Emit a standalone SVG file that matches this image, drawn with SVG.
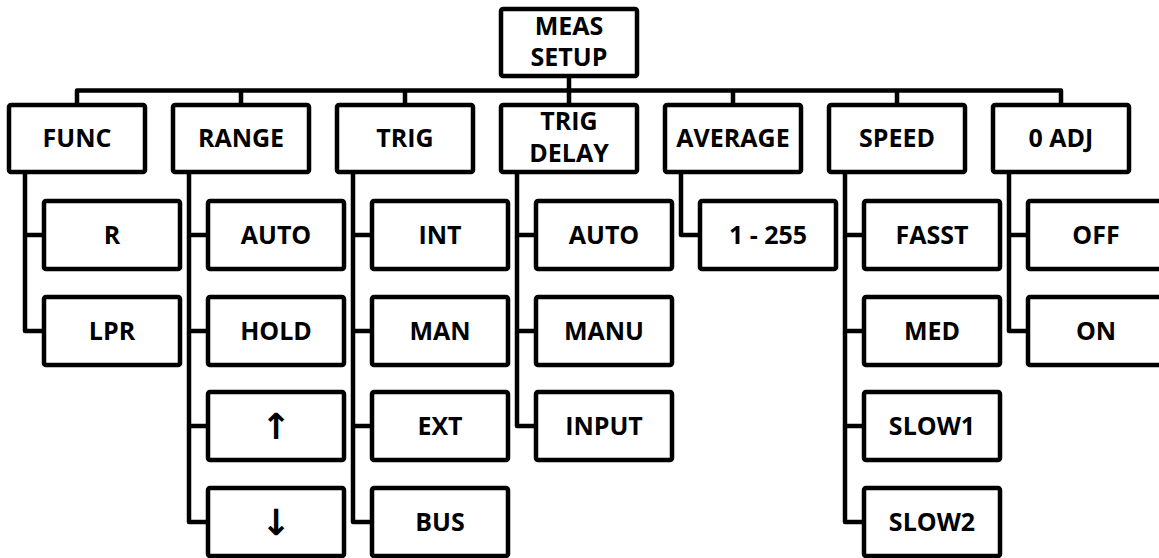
<svg xmlns="http://www.w3.org/2000/svg" width="1159" height="558" viewBox="0 0 1159 558">
<style>
.b{fill:#fff;stroke:#000;stroke-width:4.5;stroke-linejoin:round}
.c{fill:none;stroke:#000;stroke-width:4.5;stroke-linejoin:round}
text{font-family:"Open Sans","Liberation Sans",sans-serif;font-weight:bold;font-size:25px;text-anchor:middle;fill:#000}
.a{font-family:"DejaVu Sans",sans-serif;font-weight:bold;font-size:36px}
</style>
<rect width="1159" height="558" fill="#fff"/>
<g id="connectors">
<path class="c" d="M569 76V90.5"/>
<path class="c" d="M77 105V90.5H1061V105"/>
<path class="c" d="M241 90.5V105M405 90.5V105M569 90.5V105M733 90.5V105M897 90.5V105"/>
<path class="c" d="M25 172V331H44M25 235H44"/>
<path class="c" d="M189 172V522H208M189 235H208M189 331H208M189 426H208"/>
<path class="c" d="M353 172V522H372M353 235H372M353 331H372M353 426H372"/>
<path class="c" d="M517 172V426H536M517 235H536M517 331H536"/>
<path class="c" d="M681 172V235H700"/>
<path class="c" d="M845 172V522H864M845 235H864M845 331H864M845 426H864"/>
<path class="c" d="M1009 172V331H1028M1009 235H1028"/>
</g>
<g id="meas-setup"><rect class="b" x="501" y="9" width="136" height="67" rx="2"/><text x="569" y="35">MEAS</text><text x="569" y="66">SETUP</text></g>
<g id="func"><rect class="b" x="9" y="105" width="136" height="67" rx="2"/><text x="77" y="147">FUNC</text></g>
<g id="range"><rect class="b" x="173" y="105" width="136" height="67" rx="2"/><text x="241" y="147">RANGE</text></g>
<g id="trig"><rect class="b" x="337" y="105" width="136" height="67" rx="2"/><text x="405" y="147">TRIG</text></g>
<g id="trig-delay"><rect class="b" x="501" y="105" width="136" height="67" rx="2"/><text x="569" y="130">TRIG</text><text x="569" y="162">DELAY</text></g>
<g id="average"><rect class="b" x="665" y="105" width="136" height="67" rx="2"/><text x="733" y="147">AVERAGE</text></g>
<g id="speed"><rect class="b" x="829" y="105" width="136" height="67" rx="2"/><text x="897" y="147">SPEED</text></g>
<g id="zero-adj"><rect class="b" x="993" y="105" width="136" height="67" rx="2"/><text x="1061" y="147">0 ADJ</text></g>

<g id="func-r"><rect class="b" x="44" y="201" width="136" height="68" rx="2"/><text x="112" y="244">R</text></g>
<g id="func-lpr"><rect class="b" x="44" y="297" width="136" height="68" rx="2"/><text x="112" y="340">LPR</text></g>

<g id="range-auto"><rect class="b" x="208" y="201" width="136" height="68" rx="2"/><text x="276" y="244">AUTO</text></g>
<g id="range-hold"><rect class="b" x="208" y="297" width="136" height="68" rx="2"/><text x="276" y="340">HOLD</text></g>
<g id="range-up"><rect class="b" x="208" y="392" width="136" height="68" rx="2"/><text class="a" x="276" y="439">↑</text></g>
<g id="range-down"><rect class="b" x="208" y="488" width="136" height="68" rx="2"/><text class="a" x="276" y="535">↓</text></g>

<g id="trig-int"><rect class="b" x="372" y="201" width="136" height="68" rx="2"/><text x="440" y="244">INT</text></g>
<g id="trig-man"><rect class="b" x="372" y="297" width="136" height="68" rx="2"/><text x="440" y="340">MAN</text></g>
<g id="trig-ext"><rect class="b" x="372" y="392" width="136" height="68" rx="2"/><text x="440" y="435">EXT</text></g>
<g id="trig-bus"><rect class="b" x="372" y="488" width="136" height="68" rx="2"/><text x="440" y="531">BUS</text></g>

<g id="delay-auto"><rect class="b" x="536" y="201" width="136" height="68" rx="2"/><text x="604" y="244">AUTO</text></g>
<g id="delay-manu"><rect class="b" x="536" y="297" width="136" height="68" rx="2"/><text x="604" y="340">MANU</text></g>
<g id="delay-input"><rect class="b" x="536" y="392" width="136" height="68" rx="2"/><text x="604" y="435">INPUT</text></g>

<g id="average-range"><rect class="b" x="700" y="201" width="136" height="68" rx="2"/><text x="768" y="244">1 - 255</text></g>

<g id="speed-fasst"><rect class="b" x="864" y="201" width="136" height="68" rx="2"/><text x="932" y="244">FASST</text></g>
<g id="speed-med"><rect class="b" x="864" y="297" width="136" height="68" rx="2"/><text x="932" y="340">MED</text></g>
<g id="speed-slow1"><rect class="b" x="864" y="392" width="136" height="68" rx="2"/><text x="932" y="435">SLOW1</text></g>
<g id="speed-slow2"><rect class="b" x="864" y="488" width="136" height="68" rx="2"/><text x="932" y="531">SLOW2</text></g>

<g id="adj-off"><rect class="b" x="1028" y="201" width="136" height="68" rx="2"/><text x="1096" y="244">OFF</text></g>
<g id="adj-on"><rect class="b" x="1028" y="297" width="136" height="68" rx="2"/><text x="1096" y="340">ON</text></g>
</svg>
